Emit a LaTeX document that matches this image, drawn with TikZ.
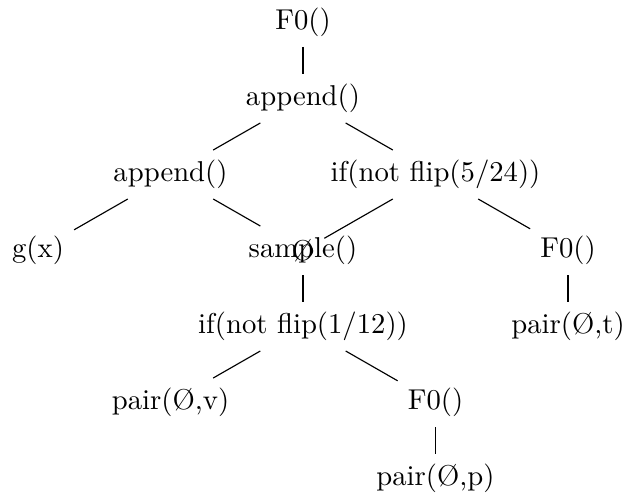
\documentclass[tikz,border=0pt]{standalone}
\begin{document}
\begin{tikzpicture}[x=0.3484pt,y=-0.3484pt,
  tn/.style={inner sep=0.3333em},
  edge/.style={draw=black,line width=0.4pt}]
\useasboundingbox (0,0) rectangle (624,494);
\node[tn] (f0) at (303,22.5) {F0()};
\node[tn] (ap1) at (303,98.5) {append()};
\node[tn] (ap2) at (170.5,174.5) {append()};
\node[tn] (if1) at (435.5,174.5) {if(not flip(5/24))};
\node[tn] (gx) at (38,250.5) {g(x)};
\node[tn] (smp) at (303,250.5) {sample()};
\node[tn] (nul) at (303,250.5) {Ø};
\node[tn] (f0r) at (568,250.5) {F0()};
\node[tn] (if2) at (303,326.5) {if(not flip(1/12))};
\node[tn] (pt) at (568,326.5) {pair(Ø,t)};
\node[tn] (pv) at (170.5,402.5) {pair(Ø,v)};
\node[tn] (f0b) at (435.5,402.5) {F0()};
\node[tn] (pp) at (435.5,478.5) {pair(Ø,p)};
\draw[edge] (f0) -- (ap1);
\draw[edge] (ap1) -- (ap2);
\draw[edge] (ap1) -- (if1);
\draw[edge] (ap2) -- (gx);
\draw[edge] (ap2) -- (smp);
\draw[edge] (if1) -- (nul);
\draw[edge] (if1) -- (f0r);
\draw[edge] (smp) -- (if2);
\draw[edge] (f0r) -- (pt);
\draw[edge] (if2) -- (pv);
\draw[edge] (if2) -- (f0b);
\draw[edge] (f0b) -- (pp);
\end{tikzpicture}
\end{document}
